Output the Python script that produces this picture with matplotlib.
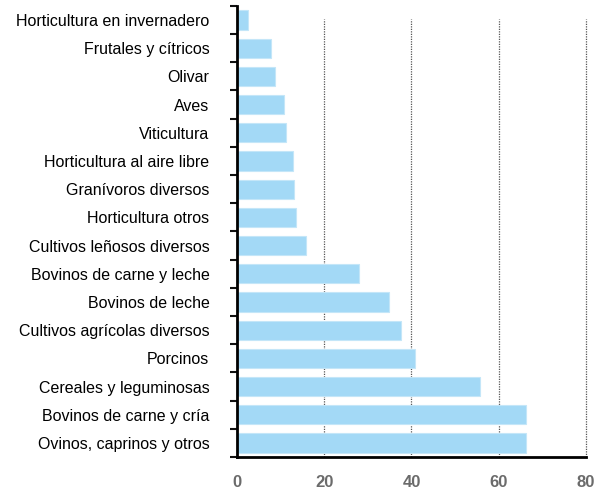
import matplotlib.pyplot as plt
import numpy as np

# categorías (de arriba hacia abajo) y valores
categorias = ['Horticultura en invernadero', 'Frutales y cítricos', 'Olivar', 'Aves',
              'Viticultura', 'Horticultura al aire libre', 'Granívoros diversos',
              'Horticultura otros', 'Cultivos leñosos diversos', 'Bovinos de carne y leche',
              'Bovinos de leche', 'Cultivos agrícolas diversos', 'Porcinos',
              'Cereales y leguminosas', 'Bovinos de carne y cría', 'Ovinos, caprinos y otros']
valores = [2.5, 7.8, 8.7, 10.8, 11.3, 12.9, 13.1, 13.6, 15.9, 28.0,
           34.9, 37.5, 40.9, 55.7, 66.2, 66.2]
ticks_x = [0, 20, 40, 60, 80]

plt.rcParams['font.family'] = ['Liberation Sans', 'DejaVu Sans']

fig = plt.figure(figsize=(6.02, 4.93), dpi=100)
ax = fig.add_axes([0.394, 0.073, 0.579, 0.915])

y = np.arange(len(categorias))
ax.barh(y, valores, height=0.68, color='#a3d9f6', edgecolor='#c4e6f8', linewidth=0.8, zorder=2)

ax.set_ylim(len(categorias) - 0.5, -0.5)
ax.set_xlim(0, 80)

# líneas de cuadrícula punteadas
for t in ticks_x[1:]:
    ax.axvline(t, ymin=0, ymax=0.97, color='#555555', linestyle=(0, (1, 1)),
               linewidth=0.9, zorder=1, clip_on=False)

ax.set_yticks(y)
ax.set_yticklabels(categorias, fontsize=11.5)
ax.set_yticks(np.arange(-0.5, len(categorias), 1), minor=True)
ax.tick_params(axis='y', which='major', length=0, pad=20)
ax.tick_params(axis='y', which='minor', length=5, width=1.5, color='#111111')

ax.set_xticks(ticks_x)
ax.set_xticklabels([str(t) for t in ticks_x], fontsize=12, fontweight='bold', color='#6b6b6b')
ax.tick_params(axis='x', length=0, pad=13)

for s in ['top', 'right']:
    ax.spines[s].set_visible(False)
ax.spines['left'].set_linewidth(2)
ax.spines['bottom'].set_linewidth(2)

fig.savefig('out.png', dpi=100)
